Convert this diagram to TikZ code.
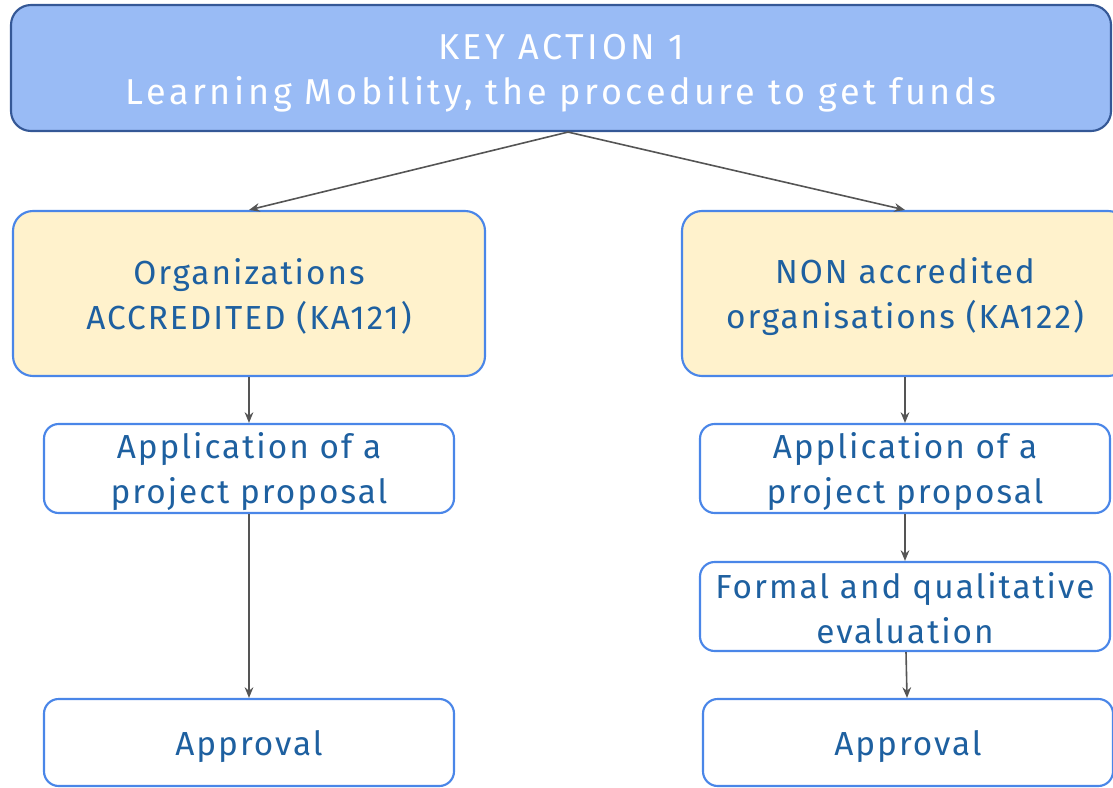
\documentclass[tikz,border=0pt]{standalone}
\usepackage{fontspec}
\setmainfont{Fira Sans}
\usetikzlibrary{arrows.meta}

\definecolor{headfill}{RGB}{153,187,245}
\definecolor{headline}{RGB}{53,88,150}
\definecolor{orgfill}{RGB}{255,242,204}
\definecolor{boxline}{RGB}{74,134,232}
\definecolor{boxtext}{RGB}{30,96,160}
\definecolor{arrowgray}{RGB}{85,85,85}
\newcommand{\lift}[1]{\rule{0pt}{#1}}

\begin{document}
\begin{tikzpicture}[x=0.75pt,y=-0.75pt,
    every node/.style={align=center,inner sep=0pt,
        font=\fontsize{25}{33.75}\selectfont\addfontfeature{LetterSpace=6}},
    head/.style={draw=headline,fill=headfill,line width=1.6pt,rounded corners=15pt,
        text=white,minimum width=825pt,minimum height=94.5pt,
        font=\fontsize{27}{33.75}\selectfont\addfontfeature{LetterSpace=10}},
    group/.style={draw=boxline,fill=orgfill,line width=1.6pt,rounded corners=15pt,
        text=boxtext,minimum height=123.75pt},
    stepbox/.style={draw=boxline,fill=white,line width=1.6pt,rounded corners=11pt,
        text=boxtext,minimum width=307.5pt,minimum height=66.75pt},
    link/.style={draw=arrowgray,line width=1.2pt,-{Stealth[length=8pt,width=6.5pt]}}]
    \useasboundingbox (0,0) rectangle (1113,788);

    % title
    \node [head] (keyaction) at (561,68) {\lift{27pt}KEY ACTION 1\\Learning Mobility, the procedure to get funds};

    % accredited branch
    \node [group,minimum width=354pt] (accredited) at (249,293.5) {\lift{24pt}Organizations\\ACCREDITED (KA121)};
    \node [stepbox] (applyA) at (249,468.5) {\lift{24pt}Application of a\\project proposal};
    \node [stepbox,minimum height=65.25pt] (approveA) at (249,742.5) {\lift{25pt}Approval};

    % non accredited branch
    \node [group,minimum width=334.5pt] (nonaccredited) at (905,293.5) {\lift{24pt}NON accredited\\organisations (KA122)};
    \node [stepbox] (applyB) at (905,468.5) {\lift{24pt}Application of a\\project proposal};
    \node [stepbox] (evaluate) at (905,606.5) {\lift{22pt}Formal and qualitative\\evaluation};
    \node [stepbox,minimum height=65.25pt] (approveB) at (908,742.5) {\lift{25pt}Approval};

    \draw [link] ([xshift=5.25pt]keyaction.south) -- (accredited.north);
    \draw [link] ([xshift=5.25pt]keyaction.south) -- (nonaccredited.north);
    \draw [link] (accredited) -- (applyA);
    \draw [link] (applyA) -- (approveA);
    \draw [link] (nonaccredited) -- (applyB);
    \draw [link] (applyB) -- (evaluate);
    \draw [link] (evaluate) -- (approveB);
\end{tikzpicture}
\end{document}
